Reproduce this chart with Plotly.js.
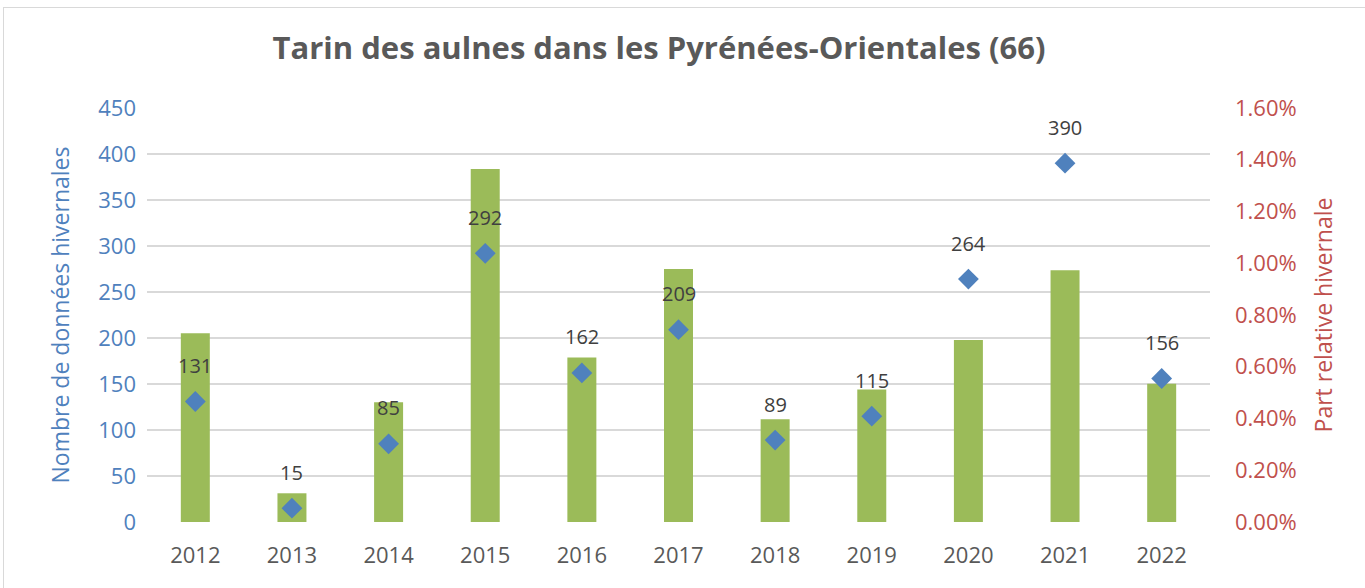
<!DOCTYPE html>
<html>
<head>
<meta charset="utf-8">
<script src="https://cdn.plot.ly/plotly-3.0.1.min.js"></script>
<style>
  html, body { margin: 0; padding: 0; background: #fff; overflow: hidden; }
  #chart { width: 1365px; height: 588px; }
  #frame { position: absolute; left: 3px; top: 7px; width: 1400px; height: 620px; border: 1px solid #d9d9d9; pointer-events: none; }
</style>
</head>
<body>
<div id="chart"></div>
<div id="frame"></div>
<script>
const years = ['2012','2013','2014','2015','2016','2017','2018','2019','2020','2021','2022'];
const counts = [131, 15, 85, 292, 162, 209, 89, 115, 264, 390, 156];
const shares = [0.00729, 0.00111, 0.00463, 0.01364, 0.00636, 0.00978, 0.00397, 0.00512, 0.00703, 0.00973, 0.00534];
const leftTicks = [0, 50, 100, 150, 200, 250, 300, 350, 400, 450];
const rightTicks = [0, 0.002, 0.004, 0.006, 0.008, 0.010, 0.012, 0.014, 0.016];

const FONT = 'Open Sans, sans-serif';

// anchor trace for the left (grid) axis, invisible
const base = {
  type: 'scatter', mode: 'markers', x: years, y: counts, yaxis: 'y',
  marker: { opacity: 0, size: 1 }, hoverinfo: 'skip'
};
const bars = {
  type: 'bar', x: years, y: shares, yaxis: 'y2',
  marker: { color: '#9bbb59' }, width: 0.3
};
const pts = {
  type: 'scatter', mode: 'markers', x: years, y: counts, yaxis: 'y3',
  marker: { symbol: 'diamond', size: 16, color: '#4f81bd' }
};

const annotations = years.map((yr, i) => ({
  x: i, y: counts[i], xref: 'x', yref: 'y3', text: String(counts[i]),
  showarrow: false, yshift: 36, font: { family: FONT, size: 20, color: '#404040' }
}));

const layout = {
  width: 1365, height: 588,
  margin: { l: 147, r: 155, t: 108, b: 66, pad: 0 },
  paper_bgcolor: 'rgba(0,0,0,0)', plot_bgcolor: '#fff',
  showlegend: false,
  title: { text: '<b>Tarin des aulnes dans les Pyrénées-Orientales (66)</b>', xref: 'container', x: 0.4828, xanchor: 'center', y: 0.918, yanchor: 'middle',
           font: { family: FONT, size: 31, color: '#595959' } },
  xaxis: { type: 'category', categoryorder: 'array', categoryarray: years, range: [-0.5, 10.5], autorange: false,
           showgrid: false, zeroline: false, showline: false, ticks: '',
           tickfont: { family: FONT, size: 22, color: '#595959' }, ticklabelstandoff: 18 },
  yaxis: { range: [0, 450], autorange: false, tickvals: leftTicks, showgrid: true, gridcolor: '#d9d9d9', gridwidth: 1.5,
           zeroline: false, showline: false, ticks: '',
           tickfont: { family: FONT, size: 22, color: '#4f81bd' }, ticklabelstandoff: 10,
           title: { text: 'Nombre de données hivernales', font: { family: FONT, size: 23, color: '#4f81bd' }, standoff: 22 } },
  yaxis2: { range: [0, 0.016], autorange: false, tickvals: rightTicks, tickformat: '.2%', overlaying: 'y', side: 'right',
            showgrid: false, zeroline: false, showline: false, ticks: '',
            tickfont: { family: FONT, size: 22, color: '#c0504d' }, ticklabelstandoff: 24,
            title: { text: 'Part relative hivernale', font: { family: FONT, size: 23, color: '#c0504d' }, standoff: 20 } },
  yaxis3: { range: [0, 450], autorange: false, overlaying: 'y', side: 'left', visible: false,
            showgrid: false, zeroline: false, showticklabels: false },
  annotations: annotations
};

Plotly.newPlot('chart', [base, bars, pts], layout, { displayModeBar: false, staticPlot: true });
</script>
</body>
</html>
